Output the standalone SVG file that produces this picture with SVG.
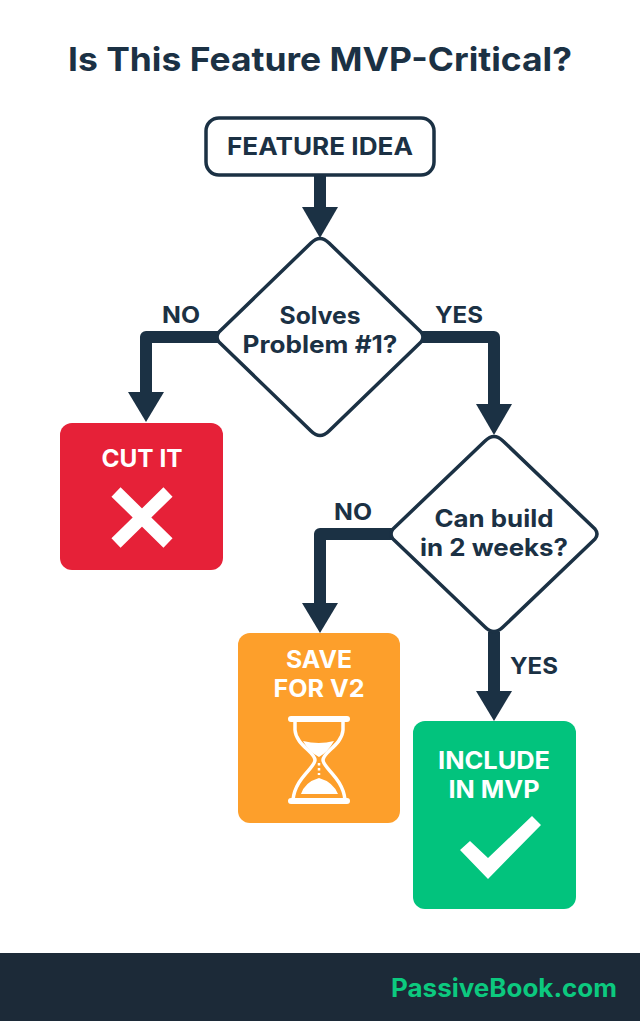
<svg xmlns="http://www.w3.org/2000/svg" width="640" height="1021" viewBox="0 0 640 1021">
<style>
text{font-family:"Inter","Noto Sans","Liberation Sans",sans-serif;font-weight:700;text-anchor:middle}
.d{fill:#1b3144}.w{fill:#fff}
.t{font-size:24px}.l{font-size:23px}
.dia{fill:#fff;stroke:#1b3144;stroke-width:3.5;stroke-linejoin:round}
.c{fill:none;stroke:#1b3144;stroke-width:12;stroke-linejoin:round}
.h{fill:#1b3144}
</style>
<rect width="640" height="1021" fill="#fff"/>
<text id="title" class="d" x="320" y="71" font-size="33" textLength="504" lengthAdjust="spacingAndGlyphs">Is This Feature MVP-Critical?</text>
<g id="connectors">
<path class="c" d="M320 176V210"/><path class="h" d="M302 207H338L320 238Z"/>
<path class="c" d="M218 337H146V392"/><path class="h" d="M128 392H164L146 422Z"/>
<path class="c" d="M422 337H494V405"/><path class="h" d="M476 404H512L494 435Z"/>
<path class="c" d="M392 534H320V604"/><path class="h" d="M302 603H338L320 633Z"/>
<path class="c" d="M494 632V692"/><path class="h" d="M476 691H512L494 721Z"/>
</g>
<g id="feature-idea"><rect x="206" y="118" width="228" height="57" rx="13" fill="#fff" stroke="#1b3144" stroke-width="3.5"/><text class="d t" x="320" y="155" textLength="186" lengthAdjust="spacingAndGlyphs">FEATURE IDEA</text></g>
<g id="solves"><path class="dia" d="M311 243Q320 234 329 243L421 332Q425 337 421 342L329 431Q320 440 311 431L219 342Q215 337 219 332Z"/><text class="d t" x="320" y="324" textLength="81" lengthAdjust="spacingAndGlyphs">Solves</text><text class="d t" x="320" y="353" textLength="155" lengthAdjust="spacingAndGlyphs">Problem #1?</text></g>
<g id="build"><path class="dia" d="M485 441Q494 432 503 441L595 529Q599 534 595 539L503 627Q494 636 485 627L393 539Q389 534 393 529Z"/><text class="d t" x="494" y="527" textLength="119" lengthAdjust="spacingAndGlyphs">Can build</text><text class="d t" x="494" y="556" textLength="148" lengthAdjust="spacingAndGlyphs">in 2 weeks?</text></g>
<g id="cut"><rect x="60" y="423" width="163" height="147" rx="12" fill="#e62138"/><text class="w t" x="142" y="467" textLength="81" lengthAdjust="spacingAndGlyphs">CUT IT</text><path d="M116 492L168 543M168 492L116 543" fill="none" stroke="#fff" stroke-width="13"/></g>
<g id="save"><rect x="238" y="633" width="162" height="190" rx="12" fill="#fd9f2b"/><text class="w t" x="319" y="668" textLength="66" lengthAdjust="spacingAndGlyphs">SAVE</text><text class="w t" x="319" y="697" textLength="91" lengthAdjust="spacingAndGlyphs">FOR V2</text>
<path d="M291 719H347M291 801H347" stroke="#fff" stroke-width="6" stroke-linecap="round"/>
<path d="M295 720V730C296 745 315 752 315 760C315 768 295 778 293 800M343 720V730C342 745 323 752 323 760C323 768 343 778 345 800" fill="none" stroke="#fff" stroke-width="3.5"/>
<path class="w" d="M303 741Q319 745 334 741Q328 752 319 757Q309 752 303 741ZM301 794Q305 782 319 778Q333 782 338 794Z"/><path d="M319 763V775" stroke="#fff" stroke-width="2.5" stroke-dasharray="2.5 2.5"/></g>
<g id="include"><rect x="413" y="721" width="163" height="188" rx="12" fill="#02c37d"/><text class="w t" x="494" y="769" textLength="112" lengthAdjust="spacingAndGlyphs">INCLUDE</text><text class="w t" x="494" y="798" textLength="91" lengthAdjust="spacingAndGlyphs">IN MVP</text><polygon class="w" points="460,850 470,841 488,858 532,816 541,825 488,879"/></g>
<g id="labels"><text class="d l" x="181" y="323" textLength="38" lengthAdjust="spacingAndGlyphs">NO</text><text class="d l" x="459" y="323" textLength="48" lengthAdjust="spacingAndGlyphs">YES</text><text class="d l" x="353" y="520" textLength="38" lengthAdjust="spacingAndGlyphs">NO</text><text class="d l" x="534" y="674" textLength="48" lengthAdjust="spacingAndGlyphs">YES</text></g>
<g id="footer"><rect y="953" width="640" height="68" fill="#1c2a38"/><text x="504" y="997" font-size="25" fill="#0cc97f" textLength="226" lengthAdjust="spacingAndGlyphs">PassiveBook.com</text></g>
</svg>
